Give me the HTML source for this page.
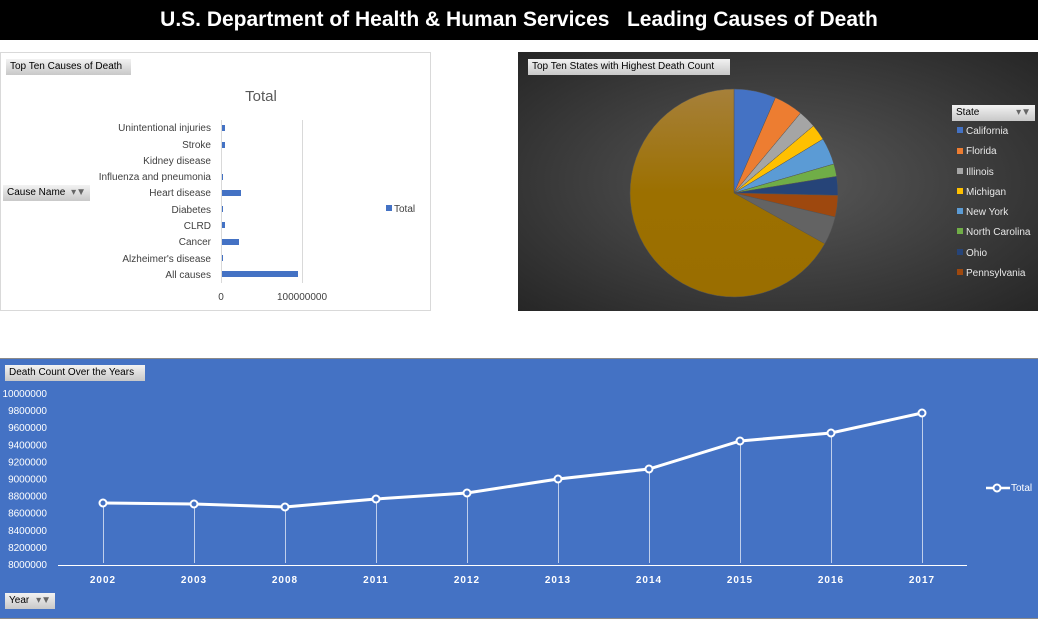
<!DOCTYPE html>
<html><head><meta charset="utf-8"><style>
body{margin:0;width:1038px;height:626px;background:#fff;position:relative;overflow:hidden;font-family:"Liberation Sans",sans-serif}
.abs{position:absolute}
.btn{position:absolute;background:linear-gradient(#f2f2f2,#c8c8c8);font-size:10px;color:#000;padding:0 4px;line-height:16px;height:16px;box-sizing:border-box}
</style></head><body>
<div class="abs" style="left:0;top:0;width:1038px;height:40px;background:#000;color:#fff;font-weight:bold;font-size:21px;text-align:center;line-height:40px;white-space:pre">U.S. Department of Health &amp; Human Services   Leading Causes of Death</div>

<div class="abs" style="left:0;top:52px;width:431px;height:259px;border:1px solid #d9d9d9;box-sizing:border-box"></div>
<div class="btn" style="left:6px;top:59px;width:125px">Top Ten Causes of Death</div>
<div class="btn" style="left:3px;top:185px;width:87px">Cause Name <span style="float:right;color:#666">▾▼</span></div>
<svg class="abs" style="left:0;top:50px" width="440" height="260" font-family="Liberation Sans, sans-serif">
<text x="261" y="51" font-size="15" fill="#595959" text-anchor="middle">Total</text>
<line x1="221.5" y1="70" x2="221.5" y2="233" stroke="#d9d9d9"/>
<line x1="302.5" y1="70" x2="302.5" y2="233" stroke="#d9d9d9"/>
<g font-size="10" fill="#404040" text-anchor="end">
<text x="211" y="81">Unintentional injuries</text>
<text x="211" y="98">Stroke</text>
<text x="211" y="114">Kidney disease</text>
<text x="211" y="130">Influenza and pneumonia</text>
<text x="211" y="146">Heart disease</text>
<text x="211" y="163">Diabetes</text>
<text x="211" y="179">CLRD</text>
<text x="211" y="195">Cancer</text>
<text x="211" y="212">Alzheimer's disease</text>
<text x="211" y="228">All causes</text>
</g>
<g fill="#4472c4">
<rect x="222" y="75" width="3" height="6"/><rect x="222" y="92" width="3" height="6"/>
<rect x="222" y="124" width="1" height="6"/><rect x="222" y="140" width="19" height="6"/>
<rect x="222" y="156" width="1" height="6"/><rect x="222" y="172" width="3" height="6"/>
<rect x="222" y="189" width="17" height="6"/><rect x="222" y="205" width="1" height="6"/>
<rect x="222" y="221" width="76" height="6"/>
<rect x="386" y="155" width="6" height="6"/>
</g>
<text x="394" y="162" font-size="10" fill="#404040">Total</text>
<text x="221" y="250" font-size="10" fill="#404040" text-anchor="middle">0</text>
<text x="302" y="250" font-size="10" fill="#404040" text-anchor="middle">100000000</text>
</svg>

<div class="abs" style="left:518px;top:52px;width:520px;height:259px;background:radial-gradient(ellipse at 50% 50%,#595959,#262626)"></div>
<div class="btn" style="left:528px;top:59px;width:202px">Top Ten States with Highest Death Count</div>
<div class="btn" style="left:952px;top:105px;width:83px">State <span style="float:right;color:#666">▾▼</span></div>
<svg class="abs" style="left:0;top:0" width="1038" height="320" font-family="Liberation Sans, sans-serif">
<defs><linearGradient id="g" x1="0" y1="0" x2="0" y2="1"><stop offset="0" stop-color="#a6803a"/><stop offset="0.5" stop-color="#9c7000"/><stop offset="1" stop-color="#9a6e00"/></linearGradient></defs>
<g id="pie" stroke="#555" stroke-width="0.5"></g>
<g font-size="10" fill="#e8e8e8">
<rect x="957" y="127" width="6" height="6" fill="#4472c4"/><text x="966" y="134">California</text>
<rect x="957" y="148" width="6" height="6" fill="#ed7d31"/><text x="966" y="154">Florida</text>
<rect x="957" y="168" width="6" height="6" fill="#a5a5a5"/><text x="966" y="175">Illinois</text>
<rect x="957" y="188" width="6" height="6" fill="#ffc000"/><text x="966" y="195">Michigan</text>
<rect x="957" y="208" width="6" height="6" fill="#5b9bd5"/><text x="966" y="215">New York</text>
<rect x="957" y="228" width="6" height="6" fill="#70ad47"/><text x="966" y="235">North Carolina</text>
<rect x="957" y="249" width="6" height="6" fill="#264478"/><text x="966" y="256">Ohio</text>
<rect x="957" y="269" width="6" height="6" fill="#9e480e"/><text x="966" y="276">Pennsylvania</text>
</g>
</svg>

<div class="abs" style="left:0;top:358px;width:1038px;height:259px;background:#4472c4;border-top:1px solid #8a8a8a;border-bottom:1px solid #8a8a8a"></div>
<div class="btn" style="left:5px;top:365px;width:140px">Death Count Over the Years</div>
<div class="btn" style="left:5px;top:593px;width:50px">Year <span style="float:right;color:#666">▾▼</span></div>
<svg class="abs" style="left:0;top:0" width="1038" height="626" font-family="Liberation Sans, sans-serif">
<g font-size="10" fill="#fff" text-anchor="end" id="yl"></g>
<line x1="58" y1="565.5" x2="967" y2="565.5" stroke="#fff"/>
<g id="ln"></g>
<g font-size="10" fill="#fff" font-weight="bold" text-anchor="middle" letter-spacing="1" id="xl"></g>
<line x1="986" y1="488" x2="1010" y2="488" stroke="#fff" stroke-width="2.5"/>
<circle cx="997" cy="488" r="3.5" fill="#4472c4" stroke="#fff" stroke-width="2"/>
<text x="1011" y="491" font-size="10" fill="#fff">Total</text>
</svg>
<script>
var ns="http://www.w3.org/2000/svg";
function el(p,t,a,tx){var e=document.createElementNS(ns,t);for(var k in a)e.setAttribute(k,a[k]);if(tx)e.textContent=tx;p.appendChild(e);return e;}
var cx=734,cy=193,r=104;
var ang=[0,23.5,39.8,49.8,58.8,73.8,80.8,91.3,103.4,119.2,360];
var cols=["#4472c4","#ed7d31","#a5a5a5","#ffc000","#5b9bd5","#70ad47","#264478","#9e480e","#636363","url(#g)"];
var pie=document.getElementById("pie");
for(var i=0;i<10;i++){var a0=ang[i]*Math.PI/180,a1=ang[i+1]*Math.PI/180;
var x0=cx+r*Math.sin(a0),y0=cy-r*Math.cos(a0),x1=cx+r*Math.sin(a1),y1=cy-r*Math.cos(a1);
el(pie,"path",{d:"M"+cx+","+cy+"L"+x0+","+y0+"A"+r+","+r+" 0 "+((ang[i+1]-ang[i])>180?1:0)+" 1 "+x1+","+y1+"Z",fill:cols[i]});}
var yl=document.getElementById("yl");
for(var v=0;v<=10;v++){el(yl,"text",{x:47,y:568-v*17.1},String(8000000+v*200000));}
var xs=[103,194,285,376,467,558,649,740,831,922],ys=[503,504,507,499,493,479,469,441,433,413],yrs=[2002,2003,2008,2011,2012,2013,2014,2015,2016,2017];
var ln=document.getElementById("ln"),xl=document.getElementById("xl"),pts=[];
for(var i=0;i<10;i++){el(ln,"line",{x1:xs[i]+.5,y1:ys[i],x2:xs[i]+.5,y2:563,stroke:"#dfe7f5","stroke-width":1,opacity:.8});pts.push(xs[i]+","+ys[i]);el(xl,"text",{x:xs[i],y:583},String(yrs[i]));}
el(ln,"polyline",{points:pts.join(" "),fill:"none",stroke:"#fff","stroke-width":3});
for(var i=0;i<10;i++)el(ln,"circle",{cx:xs[i],cy:ys[i],r:3.5,fill:"#4472c4",stroke:"#fff","stroke-width":2});
</script>
</body></html>
